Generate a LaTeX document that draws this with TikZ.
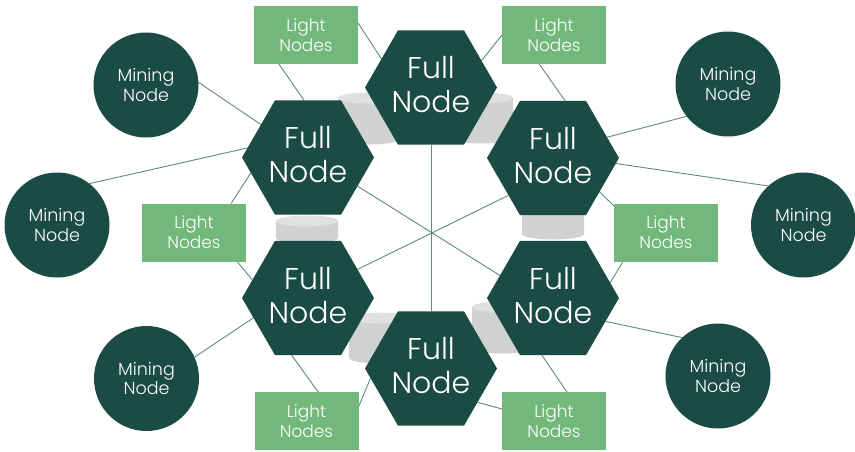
\documentclass[tikz,border=0pt]{standalone}
\usepackage{fontspec}
\setmainfont{Poppins}[UprightFont=* Light]
\usetikzlibrary{shapes.geometric}
\definecolor{deep}{HTML}{1B4B45}
\definecolor{leaf}{HTML}{73B87B}
\definecolor{wire}{HTML}{5B8A83}
\definecolor{drumside}{HTML}{CFD2D0}
\definecolor{drumtop}{HTML}{DFE1E0}
\pgfdeclarelayer{back}
\pgfsetlayers{back,main}
% storage drum: centre x, top y, bottom y
\newcommand\drum[3]{%
  \fill[drumside] (#1-31,#2) -- (#1-31,#3) arc (180:0:31 and 5.5) -- (#1+31,#2) -- cycle;
  \fill[drumtop] (#1,#2) ellipse (31 and 5.5);}
% two-line label for a full node, lifted slightly above the centre
\newcommand\fulltext{Full\\Node\rule[-6pt]{0pt}{0pt}}
\begin{document}
\begin{tikzpicture}[x=1pt,y=-1pt,
  fullnode/.style={regular polygon, regular polygon sides=6, minimum size=132pt,
    inner sep=0pt, outer sep=0pt, fill=deep, text=white, align=center,
    font=\fontsize{30}{34}\selectfont},
  miner/.style={circle, minimum size=105pt, inner sep=0pt, outer sep=0pt,
    fill=deep, text=white, align=center, font=\fontsize{17.5}{19.5}\selectfont},
  lightbox/.style={rectangle, minimum width=104pt, minimum height=58pt,
    inner sep=0pt, outer sep=0pt, fill=leaf, text=white, align=center,
    font=\fontsize{17}{20}\selectfont},
  link/.style={draw=wire, line width=0.9pt},
]
\useasboundingbox (0,0) rectangle (855,451);

% storage drums sitting between neighbouring full nodes
\begin{pgfonlayer}{back}
  \drum{369}{98}{139}
  \drum{482}{98}{138}
  \drum{307}{221}{238}
  \drum{553}{208}{234}
  \drum{380}{318}{358}
  \drum{503}{307}{348}
\end{pgfonlayer}

% full nodes
\node[fullnode] (ht)  at (431,87.5)  {\fulltext};
\node[fullnode] (htl) at (308,157.5) {\fulltext};
\node[fullnode] (htr) at (553,158)   {\fulltext};
\node[fullnode] (hbl) at (308,298)   {\fulltext};
\node[fullnode] (hbr) at (553,298)   {\fulltext};
\node[fullnode] (hb)  at (431,368.5) {\fulltext};

% mining nodes
\node[miner] (m1) at (146,85)    {Mining\\Node};
\node[miner] (m2) at (57,225)    {Mining\\Node};
\node[miner] (m3) at (146.5,378.5) {Mining\\Node};
\node[miner] (m4) at (728,84)    {Mining\\Node};
\node[miner] (m5) at (803.5,225) {Mining\\Node};
\node[miner] (m6) at (718,376)   {Mining\\Node};

% light node groups
\node[lightbox] (l1) at (306,35)    {Light\\Nodes};
\node[lightbox] (l6) at (554,35)    {Light\\Nodes};
\node[lightbox] (l2) at (194,232.5) {Light\\Nodes};
\node[lightbox] (l5) at (666,232.5) {Light\\Nodes};
\node[lightbox] (l3) at (306.5,421) {Light\\Nodes};
\node[lightbox] (l4) at (554,421)   {Light\\Nodes};

% connections
\begin{pgfonlayer}{back}
  \draw[link] (ht.south) -- (hb.north);
  \draw[link] (htl.-30) -- (hbr.157);
  \draw[link] (htr.220) -- (hbl.30);

  \draw[link] (l1.13)  -- (ht.150);
  \draw[link] (l1.227) -- (htl.94);
  \draw[link] (m1.3)   -- (htl.145);
  \draw[link] (m2.52)  -- (htl.171);
  \draw[link] (l2.38)  -- (htl.195);
  \draw[link] (l2.-34) -- (hbl.162);
  \draw[link] (m3.24)  -- (hbl.200);
  \draw[link] (hbl.254) -- (l3.68);
  \draw[link] (l3.15)  -- (hb.189);
  \draw[link] (hb.-36) -- (l4.167);
  \draw[link] (hbr.259) -- (l4.66);
  \draw[link] (hbr.-24) -- (m6.133);
  \draw[link] (hbr.15) -- (l5.214);
  \draw[link] (htr.-36) -- (l5.153);
  \draw[link] (htr.21) -- (m4.218);
  \draw[link] (htr.-5) -- (m5.132);
  \draw[link] (l6.180) -- (ht.28);
  \draw[link] (l6.243) -- (htr.78);
\end{pgfonlayer}
\end{tikzpicture}
\end{document}
